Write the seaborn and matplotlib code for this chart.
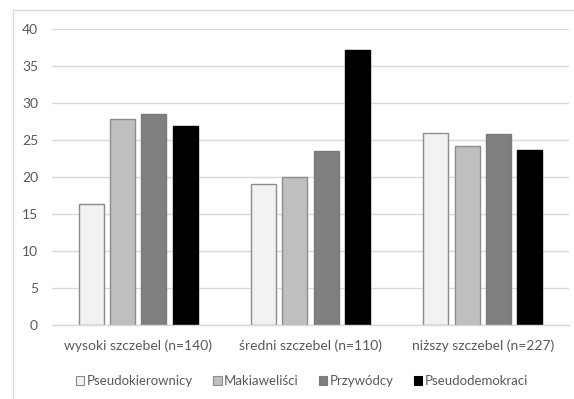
import matplotlib
matplotlib.use("Agg")
import matplotlib.pyplot as plt
from matplotlib.lines import Line2D
from matplotlib.patches import Patch
import pandas as pd
import seaborn as sns

# Data: percentage of each managerial type per management level
levels = ["wysoki szczebel (n=140)", "średni szczebel (n=110)", "niższy szczebel (n=227)"]
types = ["Pseudokierownicy", "Makiaweliści", "Przywódcy", "Pseudodemokraci"]
pseudokierownicy = [16.4, 19.1, 26.0]
makiawelisci = [27.9, 20.0, 24.2]
przywodcy = [28.5, 23.5, 25.9]
pseudodemokraci = [27.0, 37.2, 23.7]

fills = ["#F2F2F2", "#BFBFBF", "#7F7F7F", "#000000"]
edges = ["#8C8C8C", "#8C8C8C", "#7A7A7A", "#000000"]
yticks = [0, 5, 10, 15, 20, 25, 30, 35, 40]

rows = []
for t, vals in zip(types, [pseudokierownicy, makiawelisci, przywodcy, pseudodemokraci]):
    for lvl, v in zip(levels, vals):
        rows.append({"level": lvl, "type": t, "value": v})
df = pd.DataFrame(rows)

sns.set_theme(style="white")
plt.rcParams["font.family"] = ["Lato", "DejaVu Sans"]

fig = plt.figure(figsize=(5.74, 3.99), dpi=100)
ax = fig.add_axes([52 / 574, 1 - 325.3 / 399, 517 / 574, 296 / 399])

sns.barplot(data=df, x="level", y="value", hue="type", hue_order=types,
            order=levels, palette=fills, width=0.725, gap=0.2,
            legend=False, ax=ax, saturation=1, errorbar=None)

# bar outlines per series
n = len(levels)
for i, bar in enumerate(ax.patches):
    s = i // n
    bar.set_edgecolor(edges[s])
    bar.set_linewidth(1.0)

ax.set_ylim(0, 40)
ax.set_xlim(-0.5, 2.5)
ax.set_yticks(yticks)
ax.set_yticklabels([str(v) for v in yticks])
ax.yaxis.grid(True, color="#D9D9D9", linewidth=1.0)
ax.set_axisbelow(True)
for side in ["top", "right", "left"]:
    ax.spines[side].set_visible(False)
ax.spines["bottom"].set_color("#D9D9D9")
ax.spines["bottom"].set_linewidth(1.0)
ax.tick_params(axis="both", length=0, labelsize=10, colors="#595959")
ax.tick_params(axis="y", pad=10)
ax.tick_params(axis="x", pad=10)
ax.set_xlabel("")
ax.set_ylabel("")

handles = [Patch(facecolor=f, edgecolor=e, linewidth=0.8) for f, e in zip(fills, edges)]
leg = fig.legend(handles, types, loc="center", bbox_to_anchor=(302 / 574, 1 - 381 / 399),
                 ncol=4, frameon=False, fontsize=9.5, handlelength=0.65, handleheight=0.65,
                 handletextpad=0.2, columnspacing=1.5, labelcolor="#595959")

# chart area border (top and left edges)
fig.add_artist(Line2D([13 / 574, 1], [1 - 10 / 399, 1 - 10 / 399], color="#D9D9D9", lw=1.0))
fig.add_artist(Line2D([13 / 574, 13 / 574], [0, 1 - 10 / 399], color="#D9D9D9", lw=1.0))

fig.savefig("out.png", dpi=100)
